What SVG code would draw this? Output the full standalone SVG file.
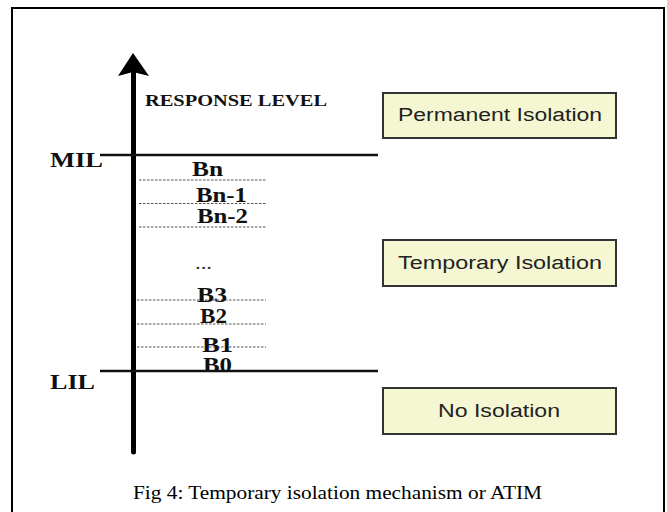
<svg xmlns="http://www.w3.org/2000/svg" width="667" height="512" viewBox="0 0 667 512">
<style>
.lbl{font-family:"Liberation Serif","Times New Roman",serif;font-weight:bold;fill:#111}
.box{fill:#f5f7d2;stroke:#333;stroke-width:2}
.btxt{font-family:"Liberation Sans",Arial,sans-serif;fill:#222;font-size:18px;text-anchor:middle}
.dot{stroke:#555;stroke-width:1;stroke-dasharray:2.5,1.5}
.lvl{stroke:#111;stroke-width:2.5}
</style>
<rect x="12" y="8" width="652" height="520" fill="#fff" stroke="#000" stroke-width="2"/>
<g id="connectors">
<line x1="133.5" y1="70" x2="133.5" y2="452" stroke="#000" stroke-width="5" stroke-linecap="round"/>
<path d="M133 53 L149 76 L133 72 L118 76 Z" fill="#000"/>
<line class="lvl" x1="100" y1="155" x2="378" y2="155"/>
<line class="lvl" x1="100" y1="371" x2="378" y2="371"/>
<line class="dot" x1="139" y1="180" x2="266" y2="180"/>
<line class="dot" x1="139" y1="203.5" x2="266" y2="203.5"/>
<line class="dot" x1="139" y1="227" x2="266" y2="227"/>
<line class="dot" x1="137" y1="300" x2="266" y2="300"/>
<line class="dot" x1="137" y1="324" x2="266" y2="324"/>
<line class="dot" x1="137" y1="347" x2="266" y2="347"/>
</g>
<g id="axis-labels">
<text class="lbl" x="145" y="106" font-size="17" textLength="182" lengthAdjust="spacingAndGlyphs">RESPONSE LEVEL</text>
<text class="lbl" x="50" y="167" font-size="22" textLength="53" lengthAdjust="spacingAndGlyphs">MIL</text>
<text class="lbl" x="50" y="389" font-size="22" textLength="45" lengthAdjust="spacingAndGlyphs">LIL</text>
</g>
<g id="levels">
<text class="lbl" x="192" y="176" font-size="20" textLength="31" lengthAdjust="spacingAndGlyphs">Bn</text>
<text class="lbl" x="196" y="202" font-size="20" textLength="51" lengthAdjust="spacingAndGlyphs">Bn-1</text>
<text class="lbl" x="197" y="223" font-size="20" textLength="51" lengthAdjust="spacingAndGlyphs">Bn-2</text>
<text x="195" y="269" font-family="Liberation Serif, serif" font-size="18" fill="#333" textLength="17" lengthAdjust="spacingAndGlyphs">...</text>
<text class="lbl" x="197" y="302" font-size="20" textLength="30" lengthAdjust="spacingAndGlyphs">B3</text>
<text class="lbl" x="200" y="323" font-size="20" textLength="27" lengthAdjust="spacingAndGlyphs">B2</text>
<text class="lbl" x="202" y="352" font-size="20" textLength="31" lengthAdjust="spacingAndGlyphs">B1</text>
<text class="lbl" x="203" y="372" font-size="20" textLength="29" lengthAdjust="spacingAndGlyphs">B0</text>
</g>
<g id="permanent">
<rect class="box" x="383" y="93" width="233" height="45"/>
<text class="btxt" x="500" y="121" textLength="204" lengthAdjust="spacingAndGlyphs">Permanent Isolation</text>
</g>
<g id="temporary">
<rect class="box" x="383" y="240" width="233" height="46"/>
<text class="btxt" x="500" y="269" textLength="204" lengthAdjust="spacingAndGlyphs">Temporary Isolation</text>
</g>
<g id="none">
<rect class="box" x="383" y="388" width="233" height="46"/>
<text class="btxt" x="499" y="417" textLength="122" lengthAdjust="spacingAndGlyphs">No Isolation</text>
</g>
<text x="133" y="499" font-family="Liberation Serif, 'Times New Roman', serif" font-size="19" fill="#000" textLength="409" lengthAdjust="spacingAndGlyphs">Fig 4: Temporary isolation mechanism or ATIM</text>
</svg>
